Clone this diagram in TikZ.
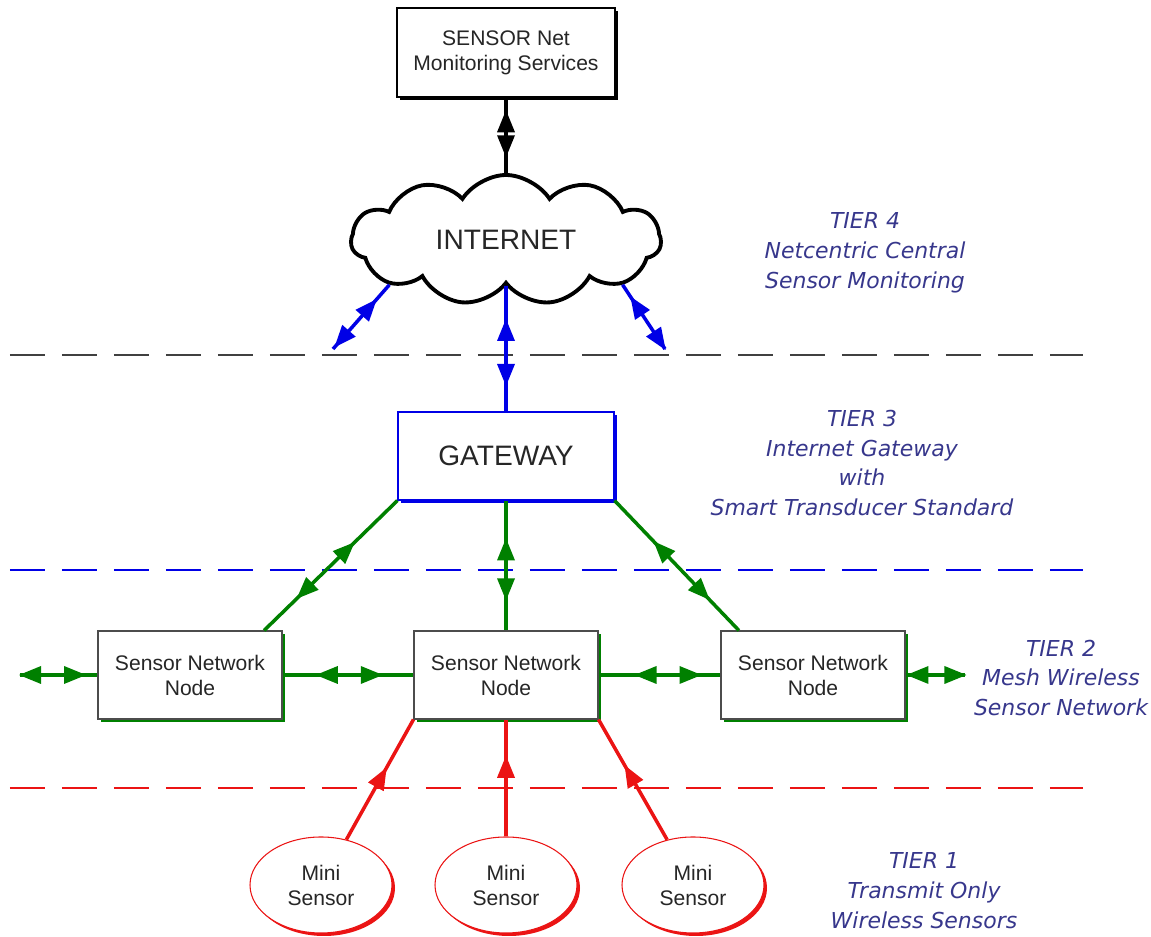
\documentclass[tikz,border=0pt]{standalone}
\usepackage{fontspec}
\setmainfont{Liberation Sans}
\newfontfamily\tierfont{DejaVu Sans}
\usetikzlibrary{shapes.symbols,shapes.geometric,shadows,decorations.markings,positioning}
\definecolor{tierblue}{RGB}{55,55,140}
\definecolor{netblue}{RGB}{0,0,230}
\definecolor{netgreen}{RGB}{0,128,0}
\definecolor{netred}{RGB}{235,20,20}

\newdimen\alen
\newdimen\awid
\alen=0.44cm
\awid=0.18cm

\tikzset{
  twoway/.style 2 args={postaction={decorate}, decoration={markings, mark=at position #1 with {
      \fill (#2+\alen,0) -- (#2,\awid) -- (#2,-\awid) -- cycle;
      \fill (-#2-\alen,0) -- (-#2,\awid) -- (-#2,-\awid) -- cycle;}}},
  oneway/.style={postaction={decorate}, decoration={markings, mark=at position #1 with {
      \fill (0,0) -- (-\alen,\awid) -- (-\alen,-\awid) -- cycle;}}},
  link/.style={line width=2pt},
  boxshadow/.style={drop shadow={shadow xshift=0.06cm, shadow yshift=-0.06cm, opacity=1, fill=#1}},
  snbox/.style={draw=black!70, line width=0.6pt, fill=white, minimum width=3.68cm, minimum height=1.76cm, align=center, text=black!85, font=\fontsize{12}{14.2}\selectfont},
  minisensor/.style={ellipse, draw=netred, line width=0.6pt, fill=white, minimum width=2.84cm, minimum height=1.92cm, align=center, text=black!85, font=\fontsize{12}{14.2}\selectfont, boxshadow=netred},
  tier/.style={tierblue, align=center, font=\tierfont\itshape\fontsize{12.5}{17}\selectfont},
  tierline/.style={dash pattern=on 0.7cm off 0.34cm, line width=1.1pt},
}

\begin{document}
\begin{tikzpicture}
\useasboundingbox (0,0) rectangle (23.02,18.74);

% tier borders
\draw[tierline, black!75] (0.2,11.64) -- (21.66,11.64);
\draw[tierline, netblue] (0.2,7.34) -- (21.66,7.34);
\draw[tierline, netred] (0.2,2.98) -- (21.66,2.98);

% tier 4
\node[snbox, minimum width=4.36cm, minimum height=1.78cm, draw=black, boxshadow=black] (services) at (10.12,17.69) {SENSOR Net\\Monitoring Services};
\node[cloud, cloud puffs=11, cloud puff arc=115, cloud ignores aspect, draw, line width=2.2pt, fill=white, minimum width=6.2cm, minimum height=2.6cm, text=black!85, font=\fontsize{16}{19}\selectfont] (inet) at (10.12,13.94) {INTERNET};
\coordinate (inetl) at (6.66,11.76);
\coordinate (inetr) at (13.30,11.76);

% tier 3
\node[snbox, minimum width=4.32cm, draw=netblue, boxshadow=netblue, font=\fontsize{16}{19}\selectfont] (gw) at (10.12,9.62) {GATEWAY};

% tier 2
\node[snbox, boxshadow=netgreen] (snnl) at (3.80,5.24) {Sensor Network\\Node};
\node[snbox, boxshadow=netgreen] (snnm) at (10.12,5.24) {Sensor Network\\Node};
\node[snbox, boxshadow=netgreen] (snnr) at (16.26,5.24) {Sensor Network\\Node};
\coordinate (meshl) at (0.4,5.24);
\coordinate (meshr) at (19.3,5.24);

% tier 1
\node[minisensor] (mini1) at (6.42,1.04) {Mini\\Sensor};
\node[minisensor] (mini2) at (10.12,1.04) {Mini\\Sensor};
\node[minisensor] (mini3) at (13.86,1.04) {Mini\\Sensor};

% links
\draw[link, black, twoway={0.48}{0.03cm}] (services) -- (inet);
\draw[link, netblue, twoway={0.53}{0.23cm}] (inet) -- (gw);
\draw[link, netblue, twoway={0.6}{0.2cm}] (inet.201) -- (inetl);
\draw[link, netblue, twoway={0.6}{0.2cm}] (inet.339) -- (inetr);
\draw[link, netgreen, twoway={0.54}{0.37cm}] (gw.south west) -- (snnl.31);
\draw[link, netgreen, twoway={0.53}{0.18cm}] (gw) -- (snnm);
\draw[link, netgreen, twoway={0.54}{0.37cm}] (gw.south east) -- (snnr.149);
\draw[link, netgreen, twoway={0.42}{0.23cm}] (meshl) -- (snnl);
\draw[link, netgreen, twoway={0.51}{0.23cm}] (snnl) -- (snnm);
\draw[link, netgreen, twoway={0.57}{0.23cm}] (snnm) -- (snnr);
\draw[link, netgreen, twoway={0.52}{0.16cm}] (snnr) -- (meshr);
\draw[link, netred, oneway=0.6] (mini1) -- (snnm.south west);
\draw[link, netred, oneway=0.69] (mini2) -- (snnm);
\draw[link, netred, oneway=0.62] (mini3) -- (snnm.south east);

% tier labels
\node[tier] (tier4) at (17.3,13.68) {TIER 4\\Netcentric Central\\Sensor Monitoring};
\node[tier] (tier3) at (17.24,9.48) {TIER 3\\Internet Gateway\\with\\Smart Transducer Standard};
\node[tier] (tier2) at (21.22,5.18) {TIER 2\\Mesh Wireless\\Sensor Network};
\node[tier] (tier1) at (18.48,0.92) {TIER 1\\Transmit Only\\Wireless Sensors};
\end{tikzpicture}
\end{document}
